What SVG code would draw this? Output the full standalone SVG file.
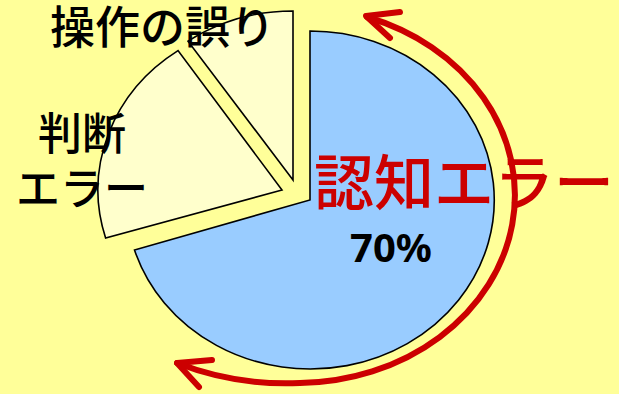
<svg xmlns="http://www.w3.org/2000/svg" width="619" height="394" viewBox="0 0 619 394">
<style>
.slice{stroke:#000;stroke-width:1.6;stroke-linejoin:miter}
.lbl{font-family:"Noto Sans CJK JP","Noto Sans",sans-serif;fill:#000;font-weight:500}
.red{fill:none;stroke:#CC0000;stroke-width:6;stroke-linecap:round;stroke-linejoin:round}
</style>
<rect x="0" y="0" width="619" height="394" fill="#FFFF99"/>
<g id="slice-cognitive">
<path class="slice" fill="#99CCFF" d="M310,200 L310,31 A184,169 0 1 1 134.5,250 Z"/>
</g>
<g id="slice-judgment">
<path class="slice" fill="#FFFFCC" d="M282,190 L105.6,238 A184,169 0 0 1 178,50.6 Z"/>
</g>
<g id="slice-operation">
<path class="slice" fill="#FFFFCC" d="M293,180 L188,41.2 A184,169 0 0 1 293,11 Z"/>
</g>
<g id="connectors">
<path class="red" d="M177,363 Q236,386 300,383 A218,188 0 0 0 367,17"/>
<path class="red" d="M400,12 L366,16 L390,38"/>
<path class="red" d="M212,360 L177,363 L199,387"/>
</g>
<g id="labels">
<text class="lbl" x="50" y="44" font-size="45">操作の誤り</text>
<text class="lbl" x="82" y="150" font-size="44" text-anchor="middle">判断</text>
<text class="lbl" x="82" y="205" font-size="44" text-anchor="middle">エラー</text>
<text x="464" y="205" font-size="60" text-anchor="middle" fill="#CC0000" font-weight="500" font-family="Noto Sans CJK JP,sans-serif">認知エラー</text>
<text x="391" y="262" font-size="40" font-weight="bold" text-anchor="middle" font-family="Noto Sans,sans-serif">70%</text>
</g>
</svg>
